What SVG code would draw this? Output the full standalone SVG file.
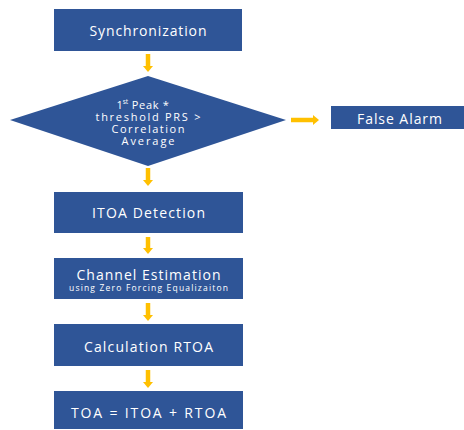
<svg xmlns="http://www.w3.org/2000/svg" width="464" height="430" viewBox="0 0 464 430">
<defs>
<style>
.box{fill:#2F5597;}
.t{fill:#ffffff;font-family:"Open Sans","Noto Sans","Liberation Sans",sans-serif;font-size:14px;text-anchor:middle;dominant-baseline:central;}
.s{font-size:8.5px;}
.d{font-size:11px;}
.arr{stroke:#FFC000;stroke-width:4.5;fill:none;marker-end:url(#ah);}
</style>
<marker id="ah" markerUnits="userSpaceOnUse" markerWidth="10" markerHeight="10" refX="0" refY="5" orient="auto" viewBox="0 0 10 10">
<path d="M0,0 L6,5 L0,10 Z" fill="#FFC000"/>
</marker>
</defs>
<rect width="464" height="430" fill="#ffffff"/>
<g id="connectors">
<line class="arr" x1="148" y1="54" x2="148" y2="66"/>
<line class="arr" x1="148" y1="168" x2="148" y2="180"/>
<line class="arr" x1="148" y1="237" x2="148" y2="248"/>
<line class="arr" x1="148" y1="303" x2="148" y2="315"/>
<line class="arr" x1="148" y1="370" x2="148" y2="382"/>
<line class="arr" x1="291" y1="120" x2="313" y2="120"/>
</g>
<g id="sync">
<rect class="box" x="54" y="9" width="188" height="42"/>
<text class="t" x="148" y="30" textLength="117" lengthAdjust="spacing">Synchronization</text>
</g>
<g id="decision">
<polygon class="box" points="148,76 286,120 148,166 10,120"/>
<text class="t d" x="143" y="104">1<tspan font-size="6.5px" dy="-3.5">st</tspan><tspan dy="3.5" letter-spacing="0.7"> Peak *</tspan></text>
<text class="t d" x="148" y="116" textLength="105" lengthAdjust="spacing">threshold PRS &gt;</text>
<text class="t d" x="148" y="128" textLength="73" lengthAdjust="spacing">Correlation</text>
<text class="t d" x="148" y="140" textLength="53" lengthAdjust="spacing">Average</text>
</g>
<g id="false-alarm">
<rect class="box" x="331" y="106" width="135" height="23"/>
<text class="t" x="399.5" y="118" font-size="13px" textLength="85" lengthAdjust="spacing">False Alarm</text>
</g>
<g id="itoa">
<rect class="box" x="54" y="192" width="189" height="41"/>
<text class="t" x="148.5" y="212" textLength="113" lengthAdjust="spacing">ITOA Detection</text>
</g>
<g id="channel">
<rect class="box" x="54" y="258" width="189" height="41"/>
<text class="t" x="148.5" y="274.5" textLength="144" lengthAdjust="spacing">Channel Estimation</text>
<text class="t s" x="148.5" y="287.5" textLength="159" lengthAdjust="spacing">using Zero Forcing Equalizaiton</text>
</g>
<g id="rtoa">
<rect class="box" x="54" y="324" width="189" height="42"/>
<text class="t" x="148.5" y="346" textLength="129" lengthAdjust="spacing">Calculation RTOA</text>
</g>
<g id="toa">
<rect class="box" x="54" y="391" width="189" height="38"/>
<text class="t" x="148.5" y="412" textLength="155" lengthAdjust="spacing">TOA = ITOA + RTOA</text>
</g>
</svg>
